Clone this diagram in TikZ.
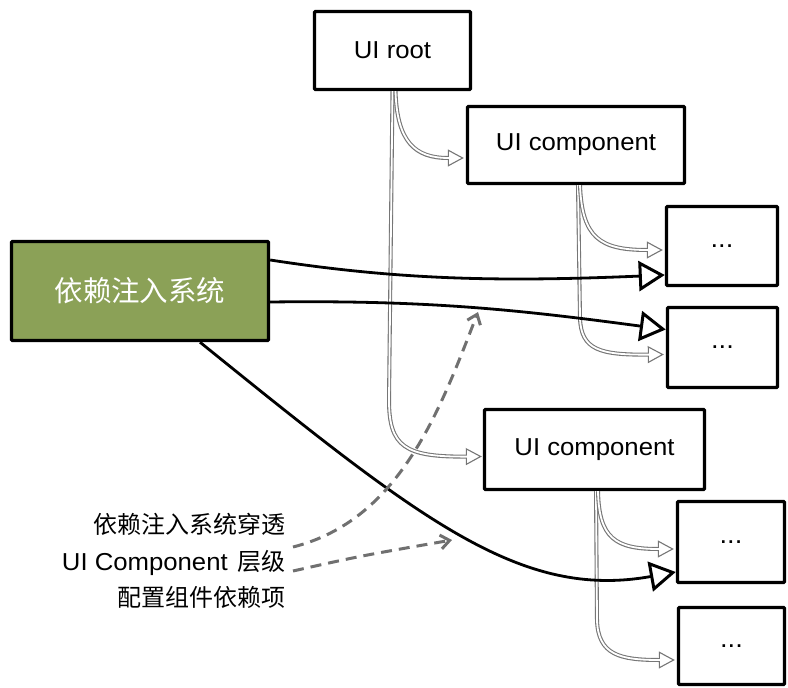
\documentclass[tikz,border=0pt]{standalone}
\usepackage{fontspec}
\setmainfont{Liberation Sans}[FakeStretch=1.05]
\newfontfamily\cjk{Noto Sans CJK SC}
\usetikzlibrary{arrows.meta,calc}
\definecolor{disgreen}{RGB}{139,161,87}
\definecolor{treegray}{RGB}{118,118,118}
\definecolor{dashgray}{RGB}{112,112,112}
\tikzset{
  box/.style={draw, line width=3.4pt, fill=white, rounded corners=1pt, inner sep=0pt,
    font=\fontsize{24.5}{29}\selectfont},
  dotsbox/.style={box, font=\fontsize{26}{30}\selectfont},
  % hollow double link: gray outer stroke, white core drawn on top
  tree/.style={draw=treegray, line width=4pt,
    -{Triangle[open, length=16pt, width=17pt, fill=white, line width=1.1pt]},
    postaction={draw=white, line width=1.8pt, shorten >=15pt, -}},
  inject/.style={draw=black, line width=2.8pt,
    -{Triangle[open, length=26pt, width=30pt, fill=white, line width=3pt]}},
  hint/.style={draw=dashgray, line width=3pt, dash pattern=on 11pt off 7pt,
    -{Straight Barb[length=9pt, width=14pt, line width=3pt]}}
}
\begin{document}
\begin{tikzpicture}[x=1pt, y=-1pt]
\useasboundingbox (0,0) rectangle (788,688);

% component tree
\node[box, minimum width=156pt, minimum height=78pt] (root)  at (392.5,50.5) {UI root};
\node[box, minimum width=217pt, minimum height=77pt] (comp1) at (576,145) {UI component};
\node[dotsbox, minimum width=111pt, minimum height=79pt] (d1) at (722,246) {...};
\node[dotsbox, minimum width=110pt, minimum height=80pt] (d2) at (722.5,347.5) {...};
\node[box, minimum width=220pt, minimum height=80pt] (comp2) at (594.5,449.5) {UI component};
\node[dotsbox, minimum width=107pt, minimum height=81pt] (d3) at (731,542) {...};
\node[dotsbox, minimum width=106pt, minimum height=77pt] (d4) at (731.5,646) {...};

% dependency injection system
\node[box, fill=disgreen, text=white, minimum width=257pt, minimum height=99pt,
  font=\cjk\fontsize{28.5}{34}\selectfont] (di) at (140,291) {依赖注入系统};

% caption
\node[anchor=east, align=right, inner sep=0pt, font=\fontsize{24}{36.5}\selectfont]
  (cap) at (286,561) {{\cjk 依赖注入系统穿透}\\{\fontsize{24.5}{36.5}\selectfont UI Component}\hspace{3pt} {\cjk 层级}\\{\cjk 配置组件依赖项}};

% parent-child links
\draw[tree] (root.south) -- (389,400) .. controls (389,447) and (405,457) .. ($(comp2.west)+(-1,7)$);
\draw[tree] ($(root.south)+(3,0)$) .. controls (397,142) and (415,158) .. ($(comp1.west)+(-2,13)$);
\draw[tree] ($(comp1.south)+(2,0)$) -- (580,318) .. controls (581,350) and (600,355) .. ($(d2.west)+(-2,7)$);
\draw[tree] ($(comp1.south)+(4,0)$) .. controls (582,238) and (600,250) .. ($(d1.west)+(-2,4)$);
\draw[tree] ($(comp2.south)+(1.5,0)$) -- (597,620) .. controls (598,655) and (620,660) .. ($(d4.west)+(-2,14)$);
\draw[tree] ($(comp2.south)+(3.5,0)$) .. controls (599,538) and (615,549) .. ($(d3.west)+(-2,7)$);

% injection links
\draw[inject] ($(di.east)+(0,-31)$) .. controls (400,280) and (500,282) .. ($(d1.west)+(0,29)$);
\draw[inject] ($(di.east)+(0,11)$) .. controls (430,300) and (520,310) .. ($(d2.west)+(0,-18)$);
\draw[inject] ($(di.south)+(60,0)$) .. controls (420,520) and (520,600) .. ($(d3.west)+(0,30)$);

% caption pointers
\coordinate (l1) at (293,547);
\coordinate (l2) at (293,571);
\coordinate (e1) at (478,312);
\coordinate (e2) at (452,540);
\draw[hint] (l1) .. controls (400,520) and (440,410) .. (e1);
\draw[hint] (l2) .. controls (360,556) .. (e2);
\end{tikzpicture}
\end{document}
